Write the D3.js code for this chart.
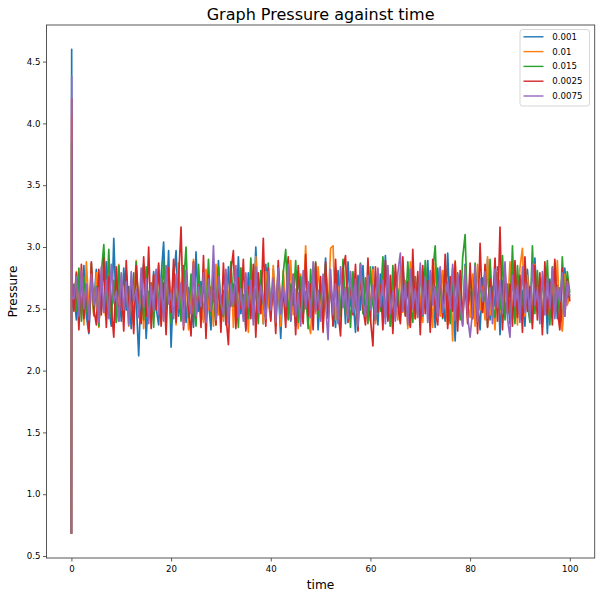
<!DOCTYPE html>
<html lang="en">
<head>
    <meta charset="UTF-8">
    <title>Graph Pressure against time</title>
    <script src="https://cdn.jsdelivr.net/npm/d3@7/dist/d3.min.js"></script>
    <style>
        body { margin: 0; background: #fff; }
        text { font-family: "DejaVu Sans", sans-serif; fill: #000; }
    </style>
</head>
<body>
    <svg width="604" height="599" id="chart"></svg>
    <script>
        // first three samples are the start-up spike, then one sample every 0.5 time units
        const leadTimes = [0, 0.05, 0.1];
        const sampleStep = 0.5;

        const seriesNames = ["0.001", "0.01", "0.015", "0.0025", "0.0075"];
        const seriesColors = ["#1f77b4", "#ff7f0e", "#2ca02c", "#d62728", "#9467bd"];

        const p001 = [0.68, 4.60, 2.55,
            2.62, 2.41, 2.78, 2.50, 2.85, 2.44, 2.30, 2.71, 2.55, 2.82, 2.38, 2.66, 2.47, 2.88, 2.52, 2.36, 3.07, 2.45, 2.74, 2.40,
            2.83, 2.49, 2.68, 2.34, 2.79, 2.57, 2.12, 2.70, 2.86, 2.26, 2.64, 2.42, 2.80, 2.51, 2.37, 2.76, 3.04, 2.46, 2.97, 2.19,
            2.73, 2.97, 2.44, 2.60, 2.85, 2.39, 2.67, 2.53, 2.35, 2.96, 2.48, 2.72, 2.41, 2.81, 2.56, 2.33, 2.77, 2.50, 2.89, 2.43,
            2.65, 2.37, 2.84, 2.52, 2.70, 2.40, 2.92, 2.46, 2.61, 2.34, 2.79, 2.55, 2.42, 3.00, 2.49, 2.75, 2.38, 2.86, 2.58, 2.44,
            2.82, 2.51, 2.69, 2.26, 2.74, 2.47, 2.90, 2.40, 2.63, 2.36, 2.80, 2.54, 2.45, 2.87, 2.39, 2.71, 2.50, 2.83, 2.33, 2.66,
            2.48, 2.91, 2.42, 2.68, 2.55, 2.35, 2.81, 2.46, 2.74, 2.38, 2.88, 2.52, 2.60, 2.31, 2.77, 2.49, 2.85, 2.43, 2.69, 2.40,
            2.84, 2.53, 2.37, 2.78, 2.47, 2.93, 2.41, 2.66, 2.34, 2.80, 2.56, 2.44, 2.87, 2.50, 2.72, 2.36, 2.82, 2.45, 2.62, 2.39,
            2.76, 2.51, 2.89, 2.43, 2.67, 2.35, 2.83, 2.48, 2.58, 2.40, 2.95, 2.46, 2.70, 2.24, 2.79, 2.54, 2.37, 2.86, 2.49, 2.64,
            2.42, 2.81, 2.57, 2.33, 2.75, 2.47, 2.90, 2.41, 2.68, 2.52, 2.84, 2.29, 2.73, 2.45, 2.61, 2.38, 2.88, 2.50, 2.77, 2.43,
            2.65, 2.36, 2.82, 2.55, 2.44, 2.91, 2.48, 2.70, 2.39, 2.80, 2.30, 2.74, 2.53, 2.87, 2.42, 2.67, 2.35, 2.83, 2.58, 2.62];

        const p01 = [0.68, 4.05, 2.60,
            2.55, 2.80, 2.42, 2.73, 2.37, 2.88, 2.50, 2.66, 2.44, 2.79, 2.35, 2.70, 2.52, 2.41, 2.84, 2.47, 2.63, 2.39, 2.86, 2.53,
            2.45, 2.76, 2.36, 2.69, 2.58, 2.89, 2.43, 2.72, 2.34, 2.81, 2.51, 2.40, 2.77, 2.56, 2.85, 2.38, 2.67, 2.48, 2.83, 2.44,
            2.71, 2.37, 2.87, 2.52, 2.46, 2.78, 2.33, 2.65, 2.90, 2.42, 2.74, 2.55, 2.39, 2.82, 2.49, 2.68, 2.36, 2.86, 2.45, 2.61,
            2.40, 2.79, 2.54, 2.88, 2.35, 2.70, 2.47, 2.83, 2.43, 2.64, 2.31, 2.76, 2.51, 2.92, 2.44, 2.69, 2.38, 2.80, 2.56, 2.41,
            2.85, 2.48, 2.73, 2.36, 2.81, 2.53, 2.42, 2.89, 2.45, 2.66, 2.34, 2.78, 2.50, 3.01, 2.39, 2.30, 2.72, 2.46, 2.84, 2.57,
            2.37, 2.75, 2.44, 2.99, 3.01, 2.41, 2.68, 2.35, 2.87, 2.52, 2.43, 2.80, 2.48, 2.71, 2.33, 2.86, 2.55, 2.40, 2.77, 2.46,
            2.82, 2.38, 2.69, 2.51, 2.90, 2.44, 2.63, 2.36, 2.79, 2.54, 2.41, 2.85, 2.47, 2.73, 2.34, 2.88, 2.50, 2.42, 2.76, 2.58,
            2.39, 2.83, 2.46, 2.70, 2.35, 2.87, 2.52, 2.44, 2.81, 2.57, 2.37, 2.74, 2.24, 2.89, 2.48, 2.66, 2.40, 2.84, 2.53, 2.43,
            2.78, 2.36, 2.86, 2.49, 2.68, 2.41, 2.92, 2.45, 2.62, 2.33, 2.80, 2.55, 2.39, 2.75, 2.47, 2.88, 2.42, 2.71, 2.37, 2.83,
            2.99, 2.44, 2.77, 2.51, 2.38, 2.86, 2.48, 2.69, 2.35, 2.81, 2.56, 2.42, 2.74, 2.46, 2.89, 2.40, 2.32, 2.78, 2.53, 2.60];

        const p015 = [0.68, 3.85, 2.50,
            2.70, 2.48, 2.83, 2.40, 2.76, 2.52, 2.38, 2.87, 2.45, 2.68, 2.36, 2.79, 3.02, 2.50, 2.98, 2.43, 2.73, 2.39, 2.85, 2.55,
            2.42, 2.81, 2.49, 2.74, 2.37, 2.88, 2.53, 2.65, 2.41, 2.84, 2.46, 2.71, 2.35, 2.80, 2.57, 2.44, 2.89, 2.50, 2.67, 2.38,
            2.82, 2.47, 2.75, 2.40, 2.69, 3.00, 2.43, 2.78, 2.54, 2.36, 2.86, 2.49, 2.72, 2.41, 2.90, 2.45, 2.63, 2.37, 2.84, 2.51,
            2.44, 2.77, 2.39, 2.88, 2.52, 2.68, 2.35, 2.83, 2.47, 2.74, 2.42, 2.91, 2.50, 2.66, 2.38, 2.81, 2.55, 2.43, 2.87, 2.48,
            2.72, 2.36, 2.85, 2.46, 2.79, 2.98, 2.41, 2.70, 2.53, 2.89, 2.39, 2.76, 2.45, 2.64, 2.34, 2.82, 2.51, 2.88, 2.43, 2.69,
            2.40, 2.86, 2.49, 2.73, 2.37, 2.83, 2.55, 2.44, 2.90, 2.47, 2.67, 2.35, 2.80, 2.52, 2.42, 2.87, 2.46, 2.75, 2.38, 2.84,
            2.53, 2.41, 2.78, 2.48, 2.92, 2.43, 2.71, 2.36, 2.85, 2.50, 2.66, 2.40, 2.81, 2.45, 2.88, 2.54, 2.39, 2.76, 2.47, 2.83,
            2.44, 2.89, 2.51, 2.37, 2.80, 3.01, 2.46, 2.72, 2.42, 2.86, 2.55, 2.38, 2.83, 2.49, 2.68, 2.41, 2.91, 3.10, 2.45, 2.77,
            2.52, 2.87, 2.40, 2.74, 2.47, 2.82, 2.36, 2.90, 2.53, 2.43, 2.79, 2.49, 2.93, 2.41, 2.70, 2.45, 3.01, 2.38, 2.85, 2.50,
            2.43, 2.88, 2.54, 2.39, 3.01, 2.46, 2.81, 2.42, 2.75, 2.52, 2.89, 2.37, 2.84, 2.48, 2.69, 2.41, 2.92, 2.55, 2.80, 2.63];

        const p0025 = [0.68, 4.20, 2.70,
            2.48, 2.79, 2.33, 2.86, 2.42, 2.70, 2.31, 2.88, 2.50, 2.37, 2.82, 2.45, 2.91, 2.35, 2.76, 2.52, 2.27, 2.84, 2.40, 2.73,
            2.32, 2.89, 2.46, 2.67, 2.30, 2.85, 2.54, 2.38, 2.92, 2.44, 3.00, 2.34, 2.78, 2.49, 2.87, 2.36, 2.71, 2.29, 2.83, 2.47,
            2.90, 2.39, 2.74, 3.16, 2.33, 2.81, 2.51, 2.28, 2.88, 2.43, 2.69, 2.35, 2.93, 2.26, 2.77, 2.48, 2.85, 2.37, 2.72, 2.31,
            2.87, 2.45, 2.21, 2.80, 2.97, 2.34, 2.75, 2.50, 2.90, 2.32, 2.68, 2.42, 2.86, 2.27, 2.79, 2.46, 3.07, 2.36, 2.83, 2.40,
            2.73, 2.30, 2.89, 2.47, 2.64, 2.35, 2.92, 2.41, 2.78, 2.29, 2.85, 2.52, 2.38, 2.94, 2.44, 2.70, 2.33, 2.87, 2.49, 2.76,
            2.31, 2.88, 2.43, 2.71, 2.36, 2.90, 2.48, 2.28, 2.82, 2.93, 2.39, 2.74, 2.45, 2.86, 2.32, 2.79, 2.51, 2.37, 2.91, 2.42,
            2.20, 2.84, 2.47, 2.69, 2.33, 2.89, 2.40, 2.77, 2.30, 2.86, 2.53, 2.38, 2.92, 2.44, 2.72, 2.35, 2.98, 2.42, 2.80, 2.29,
            2.85, 2.46, 2.73, 2.31, 2.90, 2.50, 2.37, 2.83, 2.43, 2.94, 2.34, 2.76, 2.48, 2.88, 2.32, 2.81, 2.45, 2.69, 2.38, 2.87,
            2.42, 2.79, 2.30, 3.03, 2.47, 2.86, 2.35, 2.74, 2.51, 2.91, 2.40, 3.16, 2.33, 2.82, 2.46, 2.70, 2.36, 2.89, 2.43, 2.77,
            2.31, 2.92, 2.48, 2.68, 2.34, 2.85, 2.41, 2.79, 2.29, 2.88, 2.45, 2.72, 2.37, 2.90, 2.50, 2.33, 2.83, 2.44, 2.74, 2.56];

        const p0075 = [0.68, 4.38, 2.60,
            2.58, 2.76, 2.44, 2.81, 2.50, 2.70, 2.41, 2.78, 2.53, 2.67, 2.39, 2.84, 2.47, 2.73, 2.42, 2.86, 2.55, 2.64, 2.40, 2.79,
            2.49, 2.72, 2.37, 2.80, 2.56, 2.66, 2.43, 2.83, 2.51, 2.74, 2.38, 2.69, 2.48, 2.82, 2.45, 2.75, 2.40, 2.85, 2.54, 2.63,
            2.42, 2.78, 2.50, 2.71, 2.36, 2.81, 2.57, 2.46, 2.87, 2.44, 2.68, 2.52, 2.79, 2.39, 2.74, 2.48, 3.01, 2.41, 2.76, 2.55,
            2.45, 2.82, 2.38, 2.70, 2.53, 2.85, 2.43, 2.66, 2.40, 2.79, 2.51, 2.73, 2.37, 2.84, 2.47, 2.69, 2.56, 2.42, 2.80, 2.49,
            2.75, 2.39, 2.83, 2.46, 2.68, 2.52, 2.86, 2.41, 2.77, 2.44, 2.63, 2.36, 2.81, 2.50, 2.72, 2.43, 2.88, 2.48, 2.65, 2.40,
            2.78, 2.54, 2.25, 2.82, 2.45, 2.70, 2.38, 2.84, 2.51, 2.67, 2.42, 2.80, 2.47, 2.74, 2.36, 2.86, 2.55, 2.44, 2.77, 2.49,
            2.69, 2.41, 2.83, 2.52, 2.73, 2.38, 2.85, 2.46, 2.64, 2.40, 2.79, 2.95, 2.48, 2.71, 2.37, 2.82, 2.50, 2.66, 2.43, 2.87,
            2.45, 2.76, 2.39, 2.81, 2.53, 2.68, 2.42, 2.84, 2.47, 2.60, 2.72, 2.50, 2.86, 2.41, 2.78, 2.55, 2.36, 2.83, 2.44, 2.27,
            2.49, 2.85, 2.40, 2.74, 2.56, 2.80, 2.43, 2.67, 2.38, 2.82, 2.51, 2.73, 2.46, 2.88, 2.42, 2.27, 2.77, 2.52, 2.69, 2.39,
            2.84, 2.47, 2.71, 2.41, 2.86, 2.53, 2.66, 2.38, 2.80, 2.45, 2.75, 2.50, 2.83, 2.42, 2.68, 2.56, 2.79, 2.44, 2.72, 2.60];

        const xTicks = [0, 20, 40, 60, 80, 100];
        const yTicks = [0.5, 1.0, 1.5, 2.0, 2.5, 3.0, 3.5, 4.0, 4.5];

        const seriesValues = [p001, p01, p015, p0025, p0075];

        function timeAt(i) {
            if (i < leadTimes.length) {
                return leadTimes[i];
            }
            return (i - leadTimes.length + 1) * sampleStep;
        }

        const margin = { left: 46.5, right: 9.3, top: 25, bottom: 41 };
        const width = 604, height = 599;
        const svg = d3.select('#chart');

        // matplotlib style: 5% padding round the data range
        const tMax = timeAt(p001.length - 1);
        const allValues = [].concat(...seriesValues);
        const vMin = d3.min(allValues), vMax = d3.max(allValues);
        const tPad = tMax * 0.05, vPad = (vMax - vMin) * 0.05;

        const x = d3.scaleLinear()
            .domain([-tPad, tMax + tPad])
            .range([margin.left, width - margin.right]);
        const y = d3.scaleLinear()
            .domain([vMin - vPad, vMax + vPad])
            .range([height - margin.bottom, margin.top]);

        const line = d3.line()
            .x(function(d, i) { return x(timeAt(i)); })
            .y(function(d) { return y(d); });

        svg.append('clipPath').attr('id', 'plotClip')
            .append('rect')
            .attr('x', margin.left).attr('y', margin.top)
            .attr('width', width - margin.left - margin.right)
            .attr('height', height - margin.top - margin.bottom);

        svg.append('g')
            .attr('clip-path', 'url(#plotClip)')
            .selectAll('path.series')
            .data(seriesValues)
            .enter()
            .append('path')
            .attr('class', 'series')
            .attr('fill', 'none')
            .attr('stroke', function(d, i) { return seriesColors[i]; })
            .attr('stroke-width', 1.7)
            .attr('stroke-linejoin', 'round')
            .attr('d', line);

        // axes
        const xAxis = svg.append('g')
            .attr('transform', 'translate(0,' + (height - margin.bottom) + ')')
            .call(d3.axisBottom(x).tickValues(xTicks).tickFormat(d3.format('d')).tickSize(3.5).tickSizeOuter(0));
        const yAxis = svg.append('g')
            .attr('transform', 'translate(' + margin.left + ',0)')
            .call(d3.axisLeft(y).tickValues(yTicks).tickFormat(d3.format('.1f')).tickSize(3.5).tickSizeOuter(0));

        [xAxis, yAxis].forEach(function(g) {
            g.select('.domain').remove();
            g.selectAll('.tick line').attr('stroke', '#333').attr('stroke-width', 0.8);
            g.selectAll('.tick text')
                .attr('font-family', '"DejaVu Sans", sans-serif')
                .attr('font-size', 8.6)
                .attr('fill', '#222');
        });
        xAxis.selectAll('.tick text').attr('y', 8);
        yAxis.selectAll('.tick text').attr('x', -6);

        // frame
        svg.append('rect')
            .attr('x', margin.left).attr('y', margin.top)
            .attr('width', width - margin.left - margin.right)
            .attr('height', height - margin.top - margin.bottom)
            .attr('fill', 'none')
            .attr('stroke', '#444')
            .attr('stroke-width', 0.9);

        // titles
        svg.append('text')
            .attr('x', (margin.left + width - margin.right) / 2)
            .attr('y', 20)
            .attr('text-anchor', 'middle')
            .attr('font-size', 16)
            .text('Graph Pressure against time');
        svg.append('text')
            .attr('x', (margin.left + width - margin.right) / 2)
            .attr('y', 589)
            .attr('text-anchor', 'middle')
            .attr('font-size', 12.2)
            .text('time');
        svg.append('text')
            .attr('transform', 'translate(17,' + ((margin.top + height - margin.bottom) / 2) + ') rotate(-90)')
            .attr('text-anchor', 'middle')
            .attr('font-size', 12.2)
            .text('Pressure');

        // legend
        const legend = svg.append('g').attr('transform', 'translate(520,29.5)');
        legend.append('rect')
            .attr('width', 69.5).attr('height', 76.5)
            .attr('rx', 2.5)
            .attr('fill', '#fff').attr('fill-opacity', 0.8)
            .attr('stroke', '#cccccc').attr('stroke-width', 0.8);
        const entries = legend.selectAll('g.entry')
            .data(seriesNames)
            .enter()
            .append('g')
            .attr('class', 'entry')
            .attr('transform', function(d, i) { return 'translate(0,' + (7.3 + i * 14.8) + ')'; });
        entries.append('line')
            .attr('x1', 3.5).attr('x2', 23.5)
            .attr('stroke', function(d, i) { return seriesColors[i]; })
            .attr('stroke-width', 1.4);
        entries.append('text')
            .attr('x', 32.3).attr('dy', '0.35em')
            .attr('font-size', 8.6)
            .attr('fill', '#222')
            .text(function(d) { return d; });
    </script>
</body>
</html>
